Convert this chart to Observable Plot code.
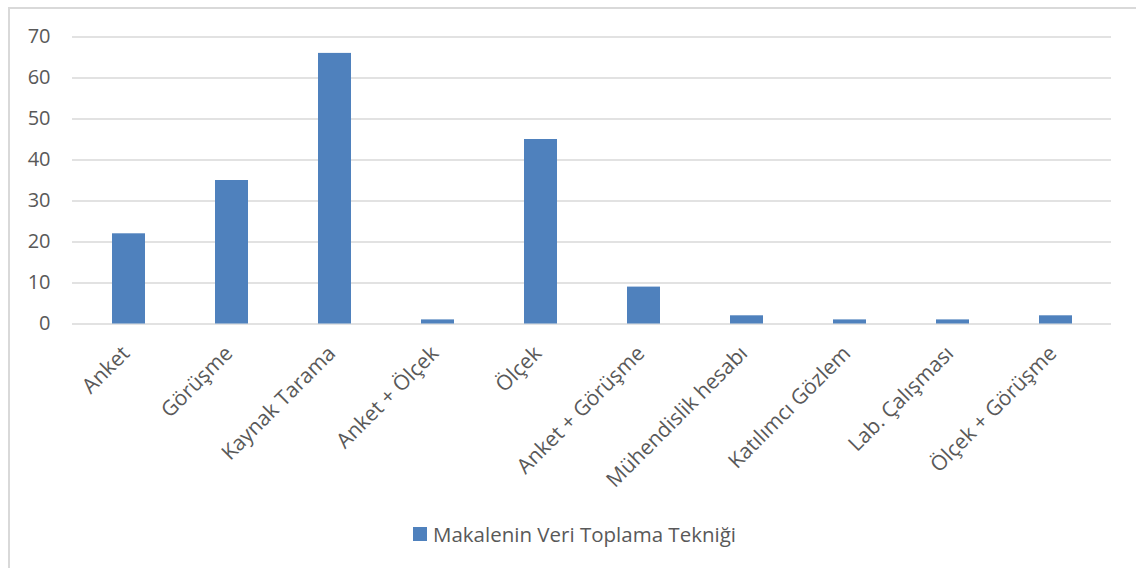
<!DOCTYPE html>
<html>
<head>
<meta charset="utf-8">
<script src="https://cdn.jsdelivr.net/npm/d3@7"></script>
<script src="https://cdn.jsdelivr.net/npm/@observablehq/plot@0.6"></script>
<style>
  html, body { margin: 0; padding: 0; background: #fff; overflow: hidden; }
  #wrap { position: relative; width: 1136px; height: 568px; overflow: hidden; font-family: "Open Sans", sans-serif; }
  #frame { position: absolute; left: 8px; top: 7px; width: 1300px; height: 700px; border-left: 2px solid #d9d9d9; border-top: 2px solid #d9d9d9; box-sizing: border-box; }
  #chart { position: absolute; left: 0; top: 0; }
  #legend { position: absolute; left: 413px; top: 519px; height: 30px; display: flex; align-items: center; color: #595959; font-size: 20.5px; }
  #legend .sw { width: 14px; height: 14px; background: #4f81bd; margin-right: 6px; }
</style>
</head>
<body>
<div id="wrap">
  <div id="frame"></div>
  <div id="chart"></div>
  <div id="legend"><span class="sw"></span><span id="legtext"></span></div>
</div>
<script>
const categories = ["Anket", "Görüşme", "Kaynak Tarama", "Anket + Ölçek", "Ölçek", "Anket + Görüşme", "Mühendislik hesabı", "Katılımcı Gözlem", "Lab. Çalışması", "Ölçek + Görüşme"];
const values = [22, 35, 66, 1, 45, 9, 2, 1, 1, 2];
const yTicks = [0, 10, 20, 30, 40, 50, 60, 70];
const seriesName = "Makalenin Veri Toplama Tekniği";

const data = categories.map((c, i) => ({category: c, value: values[i]}));

const chart = Plot.plot({
  width: 1136,
  height: 510,
  marginLeft: 72,
  marginRight: 25,
  marginTop: 36.5,
  marginBottom: 186.5,
  style: {fontFamily: "Open Sans, sans-serif", fontSize: "20px", color: "#595959", background: "transparent"},
  x: {domain: categories, paddingInner: 0.68, paddingOuter: 0.34, label: null},
  y: {domain: [0, 70], ticks: yTicks, label: null},
  marks: [
    Plot.ruleY(yTicks, {stroke: "#d9d9d9", strokeWidth: 1.5}),
    Plot.barY(data, {x: "category", y: "value", fill: "#4f81bd"}),
    Plot.axisY({ticks: yTicks, tickSize: 0, tickPadding: 22, fill: "#595959", fontSize: 20, label: null}),
    Plot.axisX({tickSize: 0, tickRotate: -45, tickPadding: 26, dx: -3, fill: "#595959", fontSize: 21, label: null})
  ]
});
document.getElementById("chart").appendChild(chart);
document.getElementById("legtext").textContent = seriesName;
</script>
</body>
</html>
